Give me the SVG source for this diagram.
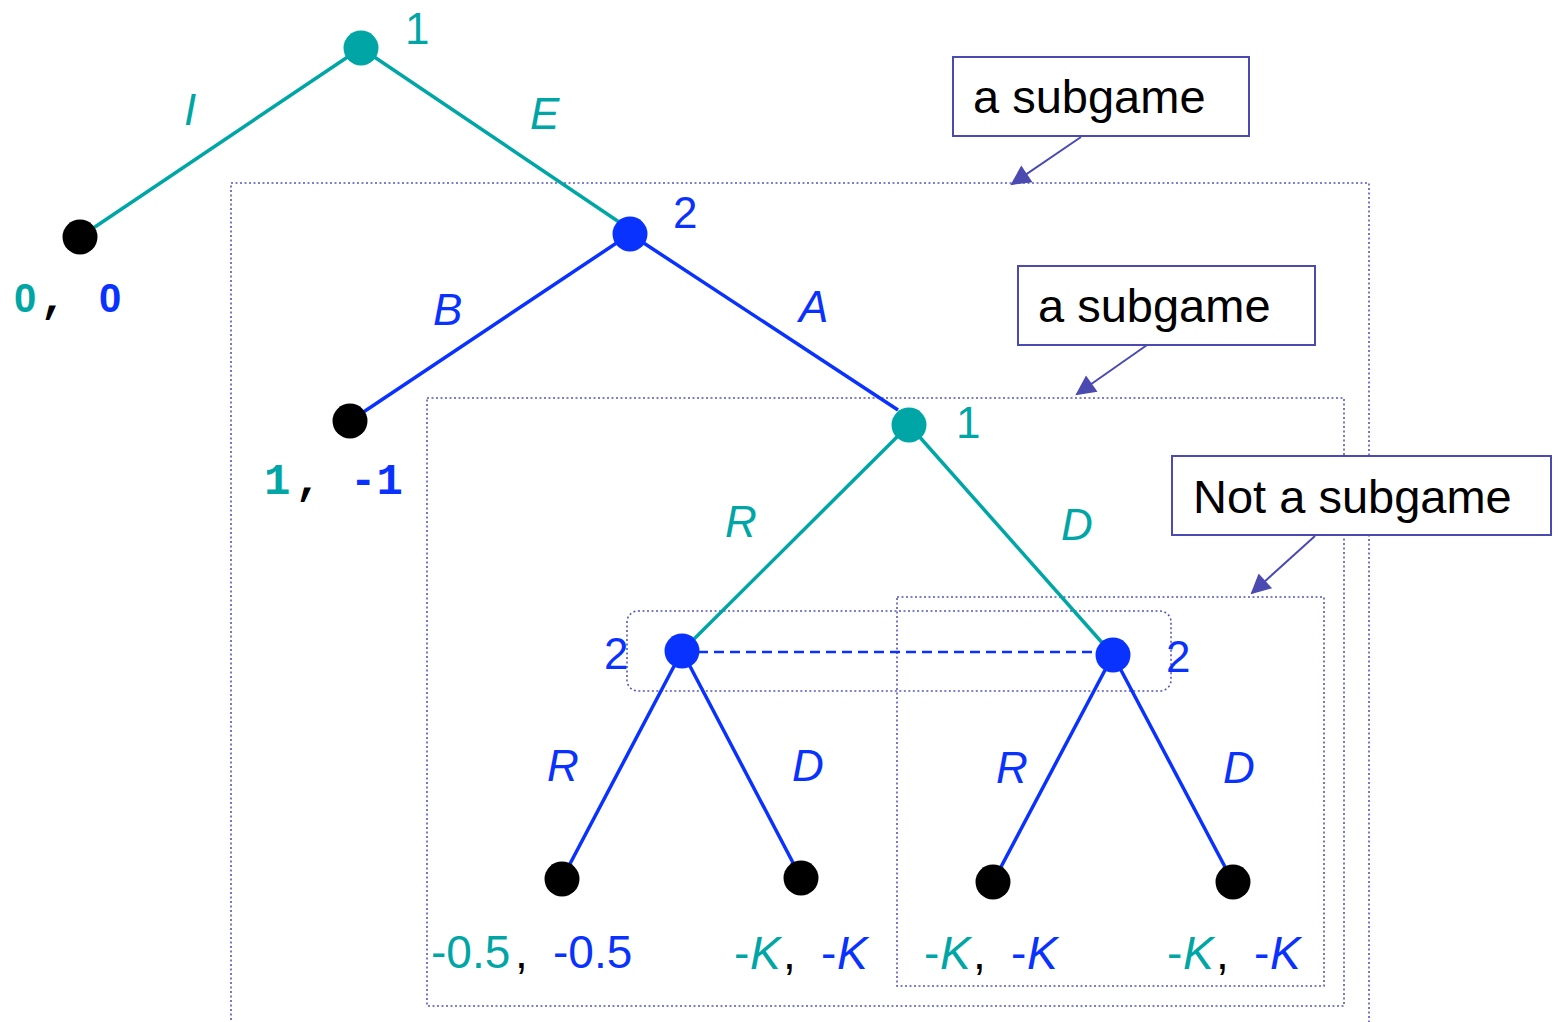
<svg xmlns="http://www.w3.org/2000/svg" width="1558" height="1022" viewBox="0 0 1558 1022">
<style>
.teal{fill:#00A6A6}
.blue{fill:#0A32FF}
.blk{fill:#000}
.et{stroke:#00A6A6;stroke-width:3.5;fill:none}
.eb{stroke:#0A32FF;stroke-width:3.5;fill:none}
.dot{stroke:#5555C0;stroke-width:1.6;stroke-dasharray:2 2.5;fill:none}
.box{stroke:#4A4AB0;stroke-width:2;fill:#fff}
.arr{stroke:#4A4AB0;stroke-width:2;fill:none}
.lab{font-family:"Liberation Sans",Arial,sans-serif;font-size:44px}
.pay{font-family:"Liberation Sans",Arial,sans-serif;font-size:46px}
.it{font-family:"Liberation Sans",Arial,sans-serif;font-size:44px;font-style:italic}
.pit{font-style:italic}
.mono{font-family:"Liberation Mono","Courier New",monospace;font-size:44px;font-weight:bold}
.zero{font-family:"Liberation Sans",Arial,sans-serif;font-size:40px;font-weight:bold}
.call{font-family:"Liberation Sans",Arial,sans-serif;font-size:47px;fill:#000}
</style>
<defs>
<marker id="ah2" viewBox="0 0 10 10" refX="9" refY="5" markerWidth="24" markerHeight="20" markerUnits="userSpaceOnUse" orient="auto">
<path d="M0,0 L10,5 L0,10 z" fill="#4A4AB0"/>
</marker>
</defs>
<rect width="1558" height="1022" fill="#fff"/>
<g id="subgame-boxes">
<rect class="dot" x="231" y="183" width="1138" height="860"/>
<rect class="dot" x="427" y="398" width="917" height="608"/>
<rect class="dot" x="897" y="597" width="427" height="389"/>
<rect class="dot" x="627" y="611" width="544" height="80" rx="11"/>
</g>
<g id="connectors">
<line class="et" x1="361" y1="48" x2="80" y2="237"/>
<line class="et" x1="361" y1="48" x2="622" y2="224"/>
<line class="eb" x1="630" y1="234" x2="350" y2="421"/>
<line class="eb" x1="630" y1="234" x2="898" y2="410"/>
<line class="et" x1="909" y1="425" x2="682" y2="651"/>
<line class="et" x1="909" y1="425" x2="1113" y2="655"/>
<line class="eb" x1="682" y1="651" x2="562" y2="879"/>
<line class="eb" x1="682" y1="651" x2="801" y2="878"/>
<line class="eb" x1="1113" y1="655" x2="993" y2="882"/>
<line class="eb" x1="1113" y1="655" x2="1233" y2="882"/>
<line x1="698" y1="652" x2="1097" y2="652" stroke="#0A32FF" stroke-width="2.5" stroke-dasharray="10 6"/>
</g>
<g id="n-root"><circle class="teal" cx="361" cy="48" r="17.5"/><text class="lab teal" x="405" y="44">1</text></g>
<g id="n-leaf-I"><circle class="blk" cx="80" cy="237" r="17.5"/><text y="312"><tspan class="zero teal" x="14">0</tspan><tspan class="mono blk" x="40">,</tspan><tspan class="zero blue" x="99">0</tspan></text></g>
<g id="n-p2"><circle class="blue" cx="630" cy="234" r="17.5"/><text class="lab blue" x="673" y="228">2</text></g>
<g id="n-leaf-B"><circle class="blk" cx="350" cy="421" r="17.5"/><text class="mono" y="494"><tspan class="teal" x="264">1</tspan><tspan class="blk" x="295">,</tspan><tspan class="blue" x="350">-1</tspan></text></g>
<g id="n-p1b"><circle class="teal" cx="909" cy="425" r="17.5"/><text class="lab teal" x="956" y="438">1</text></g>
<g id="n-p2L"><circle class="blue" cx="682" cy="651" r="17.5"/><text class="lab blue" x="604" y="669">2</text></g>
<g id="n-p2R"><circle class="blue" cx="1113" cy="655" r="17.5"/><text class="lab blue" x="1166" y="672">2</text></g>
<g id="n-leaf1"><circle class="blk" cx="562" cy="879" r="17.5"/><text class="pay" y="968"><tspan class="teal" x="431">-0.5</tspan><tspan class="blk" x="515">,</tspan><tspan class="blue" x="553">-0.5</tspan></text></g>
<g id="n-leaf2"><circle class="blk" cx="801" cy="878" r="17.5"/><text class="pay" y="969"><tspan class="teal" x="734">-</tspan><tspan class="teal pit" x="750">K</tspan><tspan class="blk" x="783">,</tspan><tspan class="blue" x="821">-</tspan><tspan class="blue pit" x="837">K</tspan></text></g>
<g id="n-leaf3"><circle class="blk" cx="993" cy="882" r="17.5"/><text class="pay" y="969"><tspan class="teal" x="924">-</tspan><tspan class="teal pit" x="940">K</tspan><tspan class="blk" x="973">,</tspan><tspan class="blue" x="1011">-</tspan><tspan class="blue pit" x="1027">K</tspan></text></g>
<g id="n-leaf4"><circle class="blk" cx="1233" cy="882" r="17.5"/><text class="pay" y="969"><tspan class="teal" x="1167">-</tspan><tspan class="teal pit" x="1183">K</tspan><tspan class="blk" x="1216">,</tspan><tspan class="blue" x="1254">-</tspan><tspan class="blue pit" x="1270">K</tspan></text></g>
<g id="edge-labels">
<text class="it teal" x="184" y="125">I</text>
<text class="it teal" x="530" y="129">E</text>
<text class="it blue" x="433" y="325">B</text>
<text class="it blue" x="799" y="322">A</text>
<text class="it teal" x="725" y="537">R</text>
<text class="it teal" x="1061" y="540">D</text>
<text class="it blue" x="547" y="781">R</text>
<text class="it blue" x="792" y="781">D</text>
<text class="it blue" x="996" y="783">R</text>
<text class="it blue" x="1223" y="783">D</text>
</g>
<g id="callout-1">
<rect class="box" x="953" y="57" width="296" height="79"/>
<text class="call" x="973" y="113">a subgame</text>
<line class="arr" x1="1081" y1="137" x2="1012" y2="184" marker-end="url(#ah2)"/>
</g>
<g id="callout-2">
<rect class="box" x="1018" y="266" width="297" height="79"/>
<text class="call" x="1038" y="322">a subgame</text>
<line class="arr" x1="1147" y1="345" x2="1077" y2="394" marker-end="url(#ah2)"/>
</g>
<g id="callout-3">
<rect class="box" x="1172" y="456" width="379" height="79"/>
<text class="call" x="1193" y="513">Not a subgame</text>
<line class="arr" x1="1315" y1="536" x2="1252" y2="593" marker-end="url(#ah2)"/>
</g>
</svg>
